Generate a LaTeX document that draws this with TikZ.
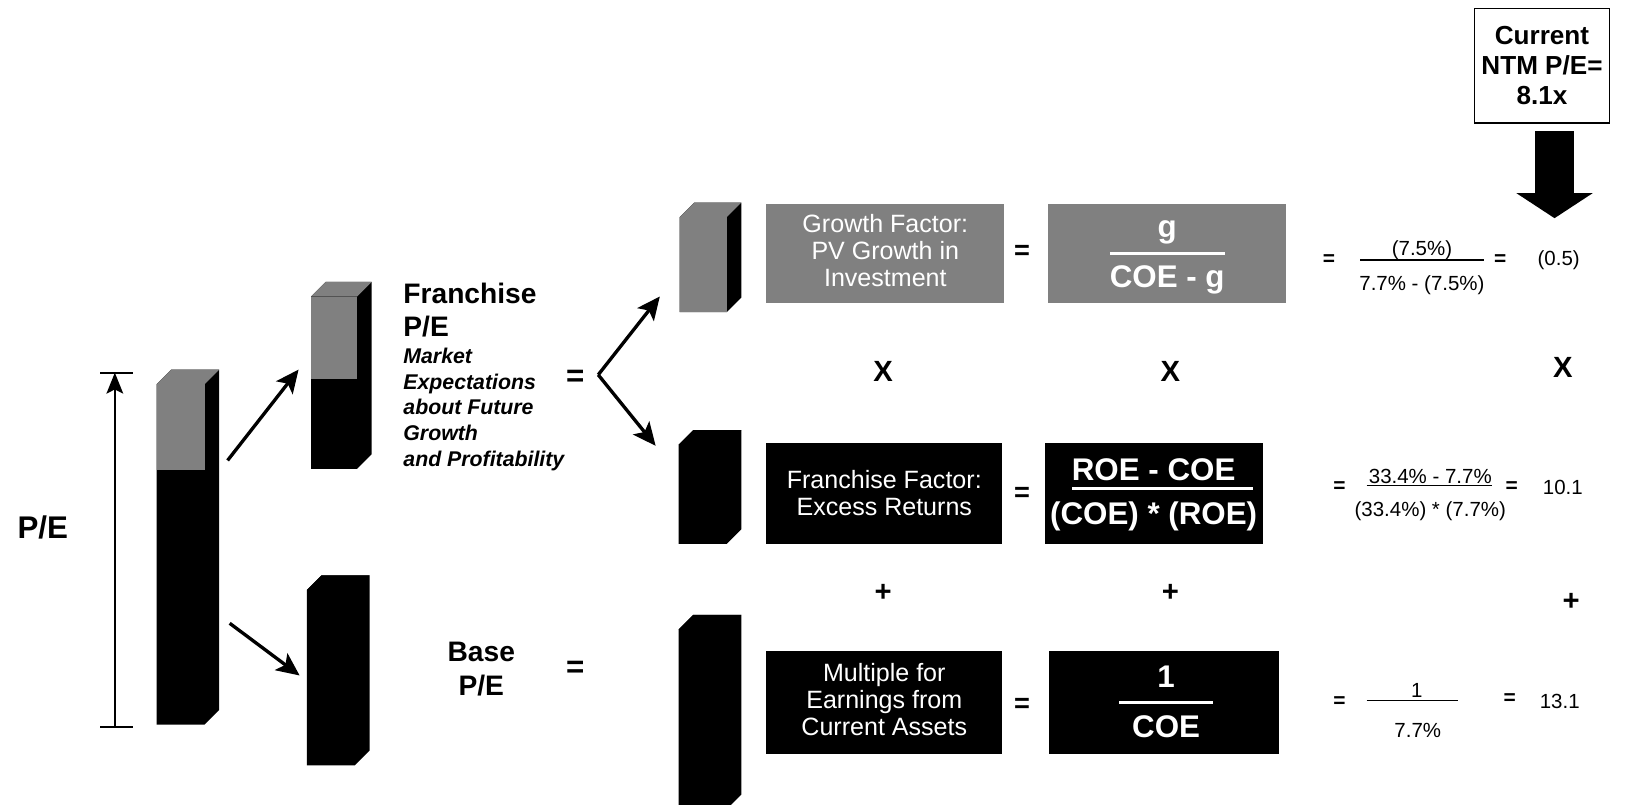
\documentclass[tikz,border=0pt]{standalone}
\usepackage{fontspec}
\setmainfont{Liberation Sans}
\usetikzlibrary{arrows.meta,positioning,calc}
\definecolor{speckgrey}{RGB}{128,128,128}

%% 3D block: x0, y0 (front top), x1, y1 (front bottom), end of grey part, grey colour
\newcommand{\peblock}[6]{%
  \fill[black] (#1,#2) -- (#1+14,#2-14) -- (#3+14,#2-14) -- (#3+14,#4-14) -- (#3,#4) -- (#1,#4) -- cycle;
  \fill[#6] (#1,#2) -- (#1+14,#2-14) -- (#3+14,#2-14) -- (#3,#2) -- cycle;
  \fill[#6] (#1,#2) rectangle (#3,#5);}

\begin{document}
\begin{tikzpicture}[x=0.5pt, y=-0.5pt,
  blackbox/.style={fill=black, inner sep=0pt},
  speckbox/.style={fill=speckgrey, inner sep=0pt},
  boxtext/.style={text=white, align=center, inner sep=0pt, font=\fontsize{12}{13}\selectfont},
  formtext/.style={text=white, inner sep=0pt, font=\fontsize{15}{15}\selectfont\bfseries},
  titletext/.style={inner sep=0pt, font=\fontsize{13.5}{15.5}\selectfont\bfseries},
  desctext/.style={inner sep=0pt, align=left, font=\fontsize{10.2}{12.3}\selectfont\bfseries\itshape},
  bigeq/.style={inner sep=0pt, font=\fontsize{15}{15}\selectfont\bfseries},
  mideq/.style={inner sep=0pt, font=\fontsize{13}{13}\selectfont\bfseries},
  opsign/.style={inner sep=0pt, font=\fontsize{14}{14}\selectfont\bfseries},
  numtext/.style={inner sep=0pt, font=\fontsize{9.8}{9.8}\selectfont},
  numeq/.style={inner sep=0pt, font=\fontsize{10}{10}\selectfont\bfseries},
  bigarr/.style={-{Stealth[length=11pt,width=10pt,inset=2.5pt]}, line width=1.6pt},
  scalearr/.style={-{Stealth[length=10pt,width=8pt,inset=2pt]}, line width=1pt},
  fatarrow/.style={-{Triangle[length=12pt,width=36pt]}, line width=18.5pt}]
  \useasboundingbox (0,0) rectangle (1568,771);

  %% P/E scale and blocks
  \node[font=\fontsize{15}{15}\selectfont\bfseries, inner sep=0pt] (pelabel) at (41,505) {P/E};
  \coordinate (scaletop) at (110,357);
  \coordinate (scalebot) at (110,696);
  \draw[line width=1pt] (96,357) -- (127,357);
  \draw[line width=1pt] (96,696) -- (127,696);
  \draw[scalearr] (scalebot) -- (scaletop);

  \peblock{150}{368}{196}{694}{450}{speckgrey}
  \peblock{298}{284}{342}{449}{363}{speckgrey}
  \peblock{294}{565}{340}{733}{565}{black}

  \coordinate (pe-up) at (218,441);
  \coordinate (fr-tip) at (286,354);
  \coordinate (pe-dn) at (220,597);
  \coordinate (bs-tip) at (287,647);
  \draw[bigarr] (pe-up) -- (fr-tip);
  \draw[bigarr] (pe-dn) -- (bs-tip);

  %% Franchise P/E and Base P/E
  \node[titletext, align=left, anchor=north west] (frtitle) at (386,271) {Franchise\\P/E};
  \node[desctext, anchor=north west] (frdesc) at (386,333) {Market\\Expectations\\about Future\\Growth\\and Profitability};
  \node[bigeq] (freq) at (551,362) {=};
  \node[titletext, align=center, font=\fontsize{13.5}{16.5}\selectfont\bfseries] (basetitle) at (461,641) {Base\\P/E};
  \node[bigeq] (baseeq) at (551,641) {=};

  \coordinate (apex) at (573,359);
  \coordinate (gr-tip) at (632,284);
  \coordinate (ff-tip) at (628,427);
  \draw[bigarr] (apex) -- (gr-tip);
  \draw[bigarr] (apex) -- (ff-tip);

  %% factor blocks
  \peblock{651}{208}{696}{299}{299}{speckgrey}
  \peblock{650}{426}{696}{521}{426}{black}
  \peblock{650}{603}{696}{775}{603}{black}

  %% Growth row
  \node[speckbox, minimum width=114pt, minimum height=47.5pt] (gfbox) at (848,242.5) {};
  \node[boxtext] (gftext) at (848,240) {Growth Factor:\\PV Growth in\\Investment};
  \node[mideq] (gfeq) at (979,242) {=};
  \node[speckbox, minimum width=114pt, minimum height=47.5pt] (gform) at (1118,242.5) {};
  \node[formtext] (gnum) at (1118,223) {g};
  \node[formtext] (gden) at (1118,268) {COE - g};
  \draw[white, line width=1.5pt] (1063,243) -- (1173,243);
  \node[numeq] (geq1) at (1273,249) {=};
  \node[numtext] (gnum2) at (1362,240) {(7.5\%)};
  \draw[line width=0.6pt] (1303,249) -- (1421,249);
  \node[numtext] (gden2) at (1362,273) {7.7\% - (7.5\%)};
  \node[numeq] (geq2) at (1437,249) {=};
  \node[numtext] (gres) at (1493,249) {(0.5)};

  %% times row
  \node[opsign] (x1) at (846,356) {X};
  \node[opsign] (x2) at (1121,356) {X};
  \node[opsign] (x3) at (1497,352) {X};

  %% Franchise row
  \node[blackbox, minimum width=113pt, minimum height=48.5pt] (ffbox) at (847,472.5) {};
  \node[boxtext] (fftext) at (847,472) {Franchise Factor:\\Excess Returns};
  \node[mideq] (ffeq) at (979,474) {=};
  \node[blackbox, minimum width=104.5pt, minimum height=48.5pt] (ffform) at (1105.5,472.5) {};
  \node[formtext] (ffnum) at (1105,450) {ROE - COE};
  \node[formtext] (ffden) at (1105,495) {(COE) * (ROE)};
  \draw[white, line width=1.5pt] (1027,468) -- (1200,468);
  \node[numeq] (ffeq1) at (1283,467) {=};
  \node[numtext] (ffnum2) at (1370,456) {33.4\% - 7.7\%};
  \draw[line width=0.6pt] (1309,465) -- (1429,465);
  \node[numtext] (ffden2) at (1370,490) {(33.4\%) * (7.7\%)};
  \node[numeq] (ffeq2) at (1448,467) {=};
  \node[numtext] (ffres) at (1497,467) {10.1};

  %% plus row
  \node[opsign] (p1) at (846,568) {+};
  \node[opsign] (p2) at (1121,568) {+};
  \node[opsign] (p3) at (1505,577) {+};

  %% Base row
  \node[blackbox, minimum width=113pt, minimum height=49pt] (mfbox) at (847,673) {};
  \node[boxtext] (mftext) at (847,670) {Multiple for\\Earnings from\\Current Assets};
  \node[mideq] (mfeq) at (979,676) {=};
  \node[blackbox, minimum width=110pt, minimum height=49pt] (mfform) at (1115,673) {};
  \node[formtext] (mfnum) at (1117,648) {1};
  \node[formtext] (mfden) at (1117,696) {COE};
  \draw[white, line width=1.5pt] (1072,673) -- (1162,673);
  \node[numeq] (mfeq1) at (1283,672) {=};
  \node[numtext] (mfnum2) at (1357,661) {1};
  \draw[line width=0.6pt] (1309,671) -- (1397,671);
  \node[numtext] (mfden2) at (1358,700) {7.7\%};
  \node[numeq] (mfeq2) at (1446,670) {=};
  \node[numtext] (mfres) at (1494,672) {13.1};

  %% current multiple
  \node[draw, line width=0.8pt, minimum width=61pt, minimum height=55pt, align=center,
        font=\fontsize{12.5}{14.3}\selectfont\bfseries] (ntmbox) at (1477,63) {Current\\NTM P/E=\\8.1x};
  \coordinate (ntmtip) at (1489,209);
  \draw[fatarrow] ([yshift=-3.5pt]ntmbox.south -| ntmtip) -- (ntmtip);
\end{tikzpicture}
\end{document}
